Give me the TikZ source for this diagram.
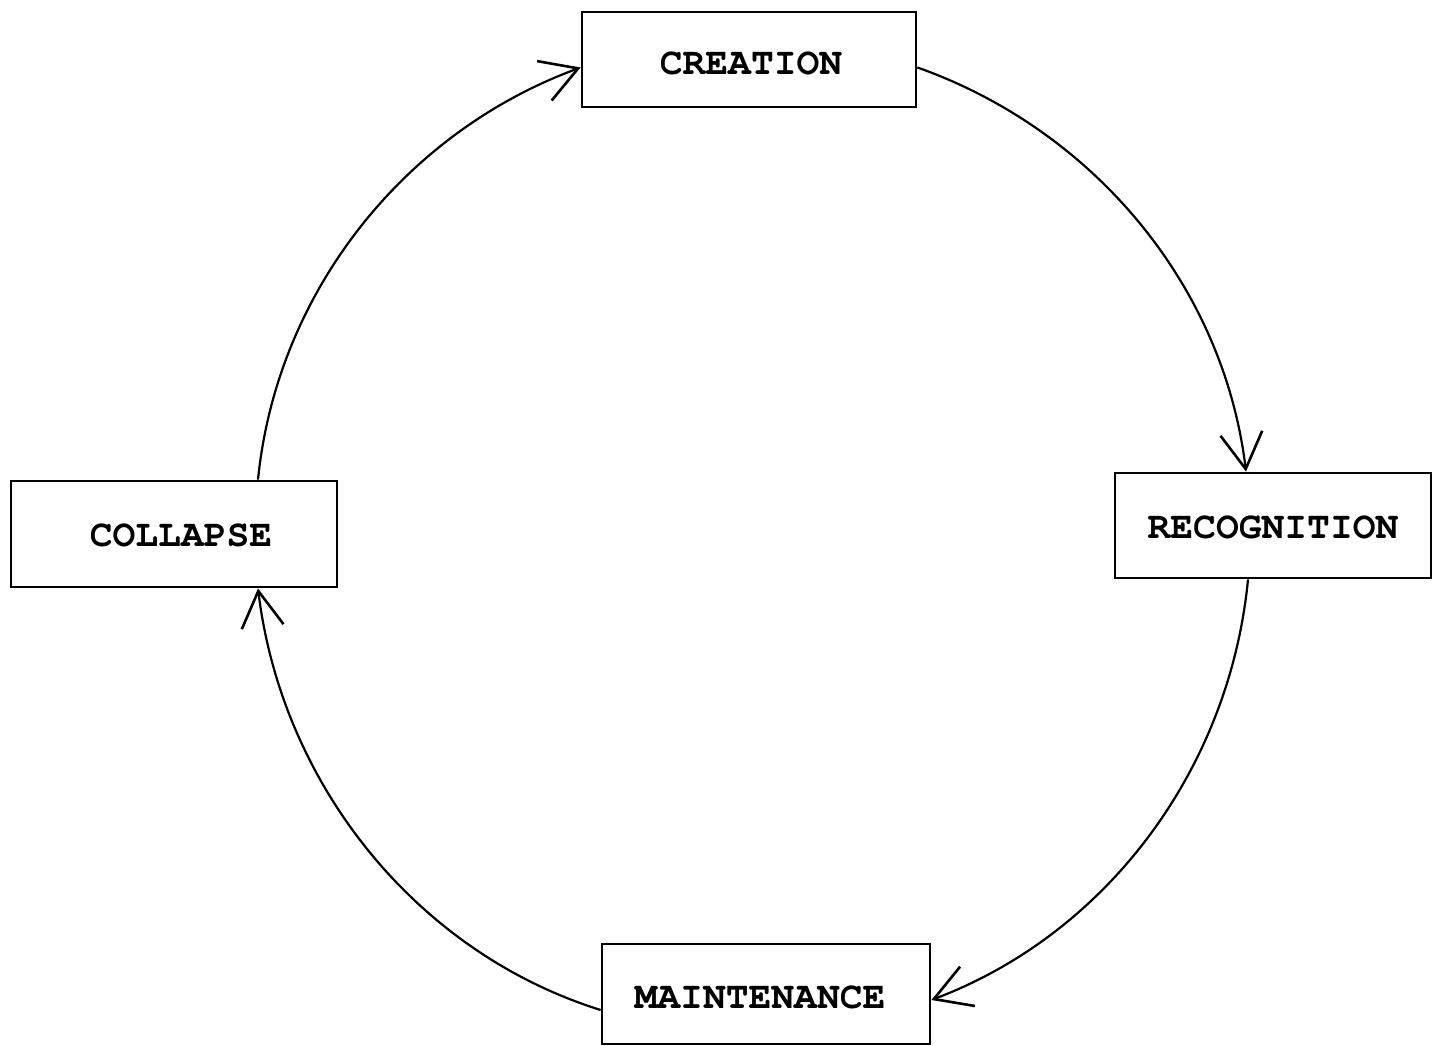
\documentclass[tikz,border=0pt]{standalone}
\usepackage[T1]{fontenc}
\usetikzlibrary{arrows.meta}
\begin{document}
\begin{tikzpicture}[x=1pt,y=1pt,
  stagebox/.style={draw, line width=2.8pt, rectangle, inner sep=0pt, text depth=0pt,
    font=\fontfamily{pcr}\bfseries\fontsize{38}{40}\selectfont},
  cyc/.style={line width=2.2pt, looseness=0.92,
    -{Straight Barb[length=36pt,width=42pt,line width=2.6pt]}}]
\useasboundingbox (0,0) rectangle (1437,1046);
\node[stagebox, minimum width=334pt, minimum height=95pt, text height=31pt] (creation) at (749,986.5) {\hspace*{4pt}CREATION};
\node[stagebox, minimum width=316pt, minimum height=105pt, text height=27pt] (recognition) at (1273,520.5) {RECOGNITION};
\node[stagebox, minimum width=326pt, minimum height=106pt, text height=25pt] (collapse) at (174,512) {\hspace*{14pt}COLLAPSE};
\node[stagebox, minimum width=328pt, minimum height=100pt, text height=29pt] (maintenance) at (766,52) {MAINTENANCE\hspace*{12pt}};
\draw[cyc] ([yshift=-8pt]creation.east) to[out=-19.5, in=96.9] ([xshift=-27pt]recognition.north);
\draw[cyc] ([xshift=-25pt]recognition.south) to[out=-95.5, in=20.7] ([yshift=-6pt]maintenance.east);
\draw[cyc] ([yshift=-16pt]maintenance.west) to[out=162.6, in=276.9] ([xshift=84pt]collapse.south);
\draw[cyc] ([xshift=84pt]collapse.north) to[out=84.3, in=200.2] ([yshift=-8pt]creation.west);
\end{tikzpicture}
\end{document}
